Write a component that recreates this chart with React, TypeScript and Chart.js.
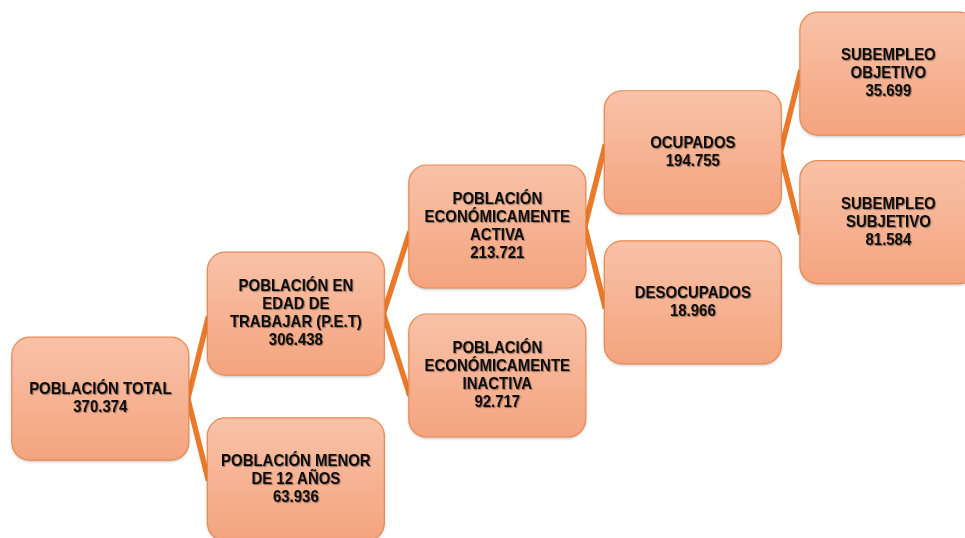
import React, { useEffect, useRef } from "react";
import { Chart, registerables } from "chart.js";

Chart.register(...registerables);

// Tree nodes (labels, values, tree structure and layout slots)
const nodeLabels: string[] = [
  "POBLACIÓN TOTAL",
  "POBLACIÓN EN\nEDAD DE\nTRABAJAR (P.E.T)",
  "POBLACIÓN MENOR\nDE 12 AÑOS",
  "POBLACIÓN\nECONÓMICAMENTE\nACTIVA",
  "POBLACIÓN\nECONÓMICAMENTE\nINACTIVA",
  "OCUPADOS",
  "DESOCUPADOS",
  "SUBEMPLEO\nOBJETIVO",
  "SUBEMPLEO\nSUBJETIVO",
];
const nodeValues: number[] = [370374, 306438, 63936, 213721, 92717, 194755, 18966, 35699, 81584];
const nodeParent: number[] = [-1, 0, 0, 1, 1, 3, 3, 5, 5];
const nodeLevel: number[] = [0, 0.99, 0.99, 2.01, 2.01, 3.0, 3.0, 3.99, 3.99];
const nodeRow: number[] = [7.41, 5.83, 8.91, 4.21, 6.98, 2.83, 5.62, 1.37, 4.13];

const fmt = (v: number) => v.toString().replace(/\B(?=(\d{3})+(?!\d))/g, ".");

const BOX_W = 177;
const BOX_H = 123;
const RADIUS = 18;
const BRANCH = 82;

const treePlugin = {
  id: "treeBoxes",
  afterDatasetsDraw(chart: any) {
    const ctx: CanvasRenderingContext2D = chart.ctx;
    const pts = chart.getDatasetMeta(0).data;
    const hw = BOX_W / 2;
    const hh = BOX_H / 2;

    // connectors
    ctx.save();
    ctx.strokeStyle = "#EA7A2A";
    ctx.lineWidth = 5.5;
    ctx.lineJoin = "miter";
    ctx.lineCap = "butt";
    nodeParent.forEach((p, i) => {
      if (p < 0) return;
      const par = pts[p];
      const ch = pts[i];
      const ax = par.x + hw - 1;
      const ay = par.y;
      const ey = ch.y < par.y ? ay - BRANCH : ay + BRANCH;
      ctx.beginPath();
      ctx.moveTo(ax, ay);
      ctx.lineTo(ch.x - hw + 1, ey);
      ctx.stroke();
    });
    ctx.restore();

    // boxes
    pts.forEach((pt: any, i: number) => {
      const x0 = pt.x - hw;
      const y0 = pt.y - hh;
      ctx.save();
      const g = ctx.createLinearGradient(0, y0, 0, y0 + BOX_H);
      g.addColorStop(0, "#F8C2A8");
      g.addColorStop(1, "#F4A47F");
      ctx.beginPath();
      (ctx as any).roundRect(x0, y0, BOX_W, BOX_H, RADIUS);
      ctx.shadowColor = "rgba(0,0,0,0.25)";
      ctx.shadowBlur = 3;
      ctx.shadowOffsetY = 1.5;
      ctx.fillStyle = g;
      ctx.fill();
      ctx.shadowColor = "transparent";
      ctx.strokeStyle = "#E98A50";
      ctx.lineWidth = 1.2;
      ctx.stroke();
      ctx.restore();

      const lines = nodeLabels[i].split("\n").concat([fmt(nodeValues[i])]);
      const lh = 18;
      const startY = pt.y - ((lines.length - 1) * lh) / 2;
      ctx.save();
      ctx.font = "bold 17px 'Liberation Sans', Arial, sans-serif";
      ctx.textAlign = "center";
      ctx.textBaseline = "middle";
      ctx.fillStyle = "#0d0d0d";
      ctx.shadowColor = "rgba(0,0,0,0.4)";
      ctx.shadowOffsetX = 1;
      ctx.shadowOffsetY = 1;
      ctx.shadowBlur = 1;
      lines.forEach((ln, k) => {
        ctx.save();
        ctx.translate(pt.x, startY + k * lh);
        ctx.scale(0.88, 1);
        ctx.fillText(ln, 0, 0);
        ctx.restore();
      });
      ctx.restore();
    });
  },
};

export default function App() {
  const ref = useRef<HTMLCanvasElement | null>(null);
  useEffect(() => {
    if (!ref.current) return;
    const chart = new Chart(ref.current, {
      type: "scatter",
      data: {
        datasets: [
          {
            data: nodeLevel.map((lv, i) => ({ x: lv, y: nodeRow[i] })),
            pointRadius: 0,
            pointHoverRadius: 0,
          },
        ],
      },
      options: {
        animation: false,
        responsive: false,
        layout: { padding: 0 },
        plugins: { legend: { display: false }, tooltip: { enabled: false } },
        scales: {
          x: { type: "linear", min: -0.508, max: 4.378, display: false },
          y: { type: "linear", min: 0, max: 10, reverse: true, display: false },
        },
      },
      plugins: [treePlugin],
    });
    return () => chart.destroy();
  }, []);
  return (
    <div style={{ position: "absolute", left: 0, top: 0, width: 965, height: 538, background: "#fff" }}>
      <canvas ref={ref} width={965} height={538} style={{ display: "block" }} />
    </div>
  );
}
